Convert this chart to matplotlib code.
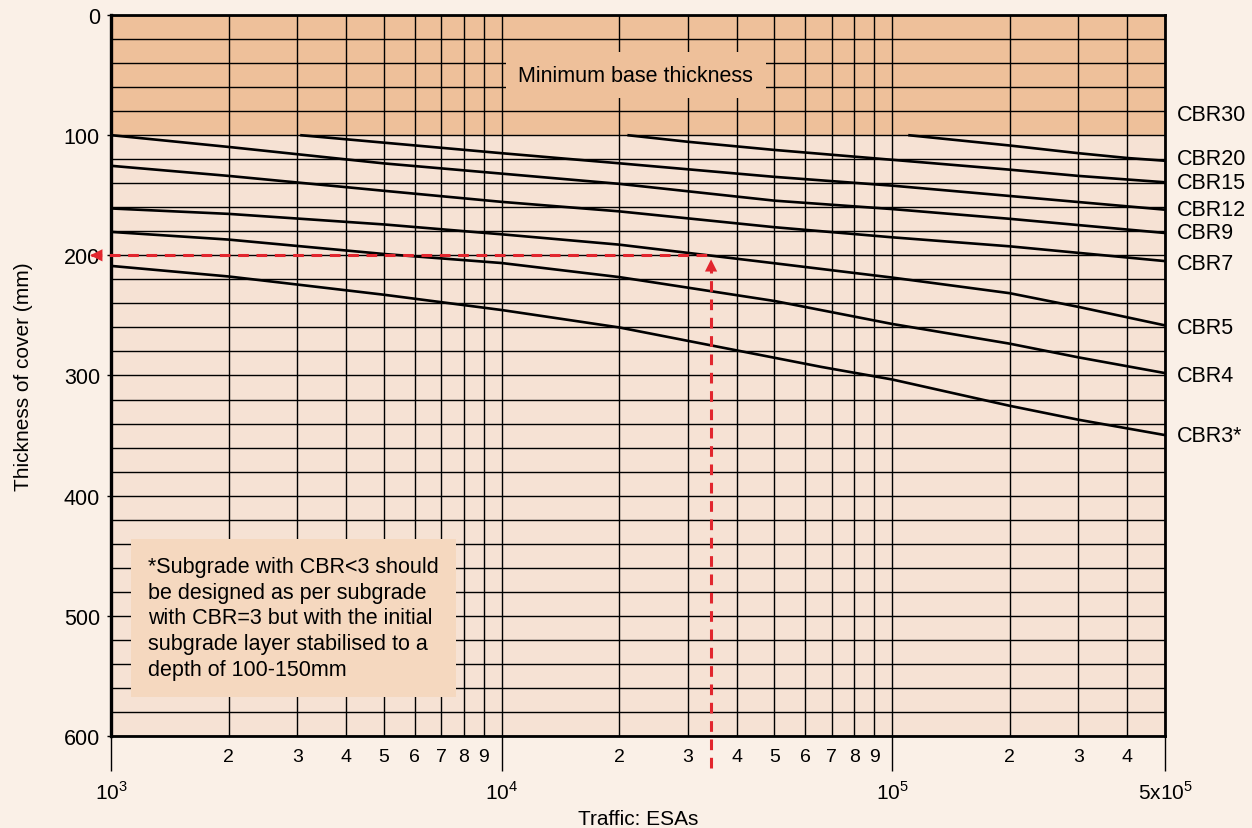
import matplotlib
matplotlib.use("Agg")
import matplotlib.pyplot as plt
from matplotlib.ticker import FixedLocator, FixedFormatter, NullFormatter

plt.rcParams['font.family'] = ['Liberation Sans', 'DejaVu Sans']
plt.rcParams['mathtext.fontset'] = 'custom'
plt.rcParams['mathtext.rm'] = 'Liberation Sans'

# curve data: traffic (ESAs) vs thickness of cover (mm)
cbr20_x = [1.1e5, 2e5, 3e5, 4e5, 5e5]
cbr20_y = [100, 108.6, 115.0, 119.0, 121.3]
cbr15_x = [2.1e4, 3e4, 5e4, 1e5, 2e5, 3e5, 5e5]
cbr15_y = [100, 105.5, 112.3, 120.5, 128.7, 133.9, 139.2]
cbr12_x = [3.05e3, 1e4, 2e4, 5e4, 1e5, 2e5, 5e5]
cbr12_y = [100, 115.0, 123.4, 134.7, 142.0, 150.6, 162.0]
cbr9_x = [1e3, 2e3, 5e3, 1e4, 2e4, 5e4, 1e5, 2e5, 5e5]
cbr9_y = [100, 109.8, 123.5, 132.0, 140.5, 154.5, 161.5, 169.6, 181.4]
cbr7_x = [1e3, 2e3, 5e3, 1e4, 2e4, 5e4, 1e5, 2e5, 5e5]
cbr7_y = [125.5, 133.9, 146.3, 155.5, 163.4, 176.6, 185.0, 192.5, 204.8]
cbr5_x = [1e3, 2e3, 5e3, 1e4, 2e4, 5e4, 1e5, 2e5, 3e5, 5e5]
cbr5_y = [161.0, 165.5, 174.3, 182.5, 191.1, 206.6, 218.5, 231.5, 242.9, 258.3]
cbr4_x = [1e3, 2e3, 5e3, 1e4, 2e4, 5e4, 1e5, 2e5, 3e5, 5e5]
cbr4_y = [180.5, 186.9, 198.9, 206.4, 218.1, 238.0, 257.1, 273.5, 284.9, 298.0]
cbr3_x = [1e3, 2e3, 5e3, 1e4, 2e4, 6.6e4, 1e5, 2e5, 3e5, 5e5]
cbr3_y = [208.8, 217.6, 232.8, 245.5, 260.0, 292.9, 303.3, 325.2, 336.8, 349.6]

curve_labels = ['CBR30', 'CBR20', 'CBR15', 'CBR12', 'CBR9', 'CBR7', 'CBR5', 'CBR4', 'CBR3*']
label_y = [82.6, 119.5, 139.7, 161.6, 181.0, 206.4, 260.0, 300.0, 350.0]

min_base = 100
design_traffic = 3.44e4
design_cover = 200

x_minor = [2e3, 3e3, 4e3, 5e3, 6e3, 7e3, 8e3, 9e3,
           2e4, 3e4, 4e4, 5e4, 6e4, 7e4, 8e4, 9e4,
           2e5, 3e5, 4e5]
x_minor_labels = ['2', '3', '4', '5', '6', '7', '8', '9',
                  '2', '3', '4', '5', '6', '7', '8', '9',
                  '2', '3', '4']
x_major = [1e3, 1e4, 1e5, 5e5]
x_major_labels = [r'$10^{3}$', r'$10^{4}$', r'$10^{5}$', r'5x$10^{5}$']

note = ("*Subgrade with CBR<3 should\n"
        "be designed as per subgrade\n"
        "with CBR=3 but with the initial\n"
        "subgrade layer stabilised to a\n"
        "depth of 100-150mm")

fig_bg = '#FAF0E7'
ax_bg = '#F6E2D4'
band = '#EEC09A'
box_bg = '#F5D8BF'
red = '#E2262E'

fig = plt.figure(figsize=(12.52, 8.29), dpi=100, facecolor=fig_bg)
ax = fig.add_axes([0.0887, 0.111, 0.8418, 0.8697])
ax.set_facecolor(ax_bg)
ax.set_xscale('log')
ax.set_xlim(1e3, 5e5)
ax.set_ylim(600, 0)

ax.axhspan(0, min_base, color=band, zorder=0, lw=0)

# grid
ax.xaxis.set_major_locator(FixedLocator(x_major))
ax.xaxis.set_major_formatter(FixedFormatter(x_major_labels))
ax.xaxis.set_minor_locator(FixedLocator(x_minor))
ax.xaxis.set_minor_formatter(FixedFormatter(x_minor_labels))
ax.yaxis.set_major_locator(FixedLocator(range(0, 601, 100)))
ax.yaxis.set_minor_locator(FixedLocator(range(0, 601, 20)))
ax.yaxis.set_minor_formatter(NullFormatter())
ax.grid(which='both', color='black', lw=1.0)
ax.set_axisbelow(True)

ax.tick_params(axis='x', which='major', length=25, width=1.0, pad=7, labelsize=15)
ax.tick_params(axis='x', which='minor', length=0, pad=9, labelsize=14)
ax.tick_params(axis='y', which='major', length=3, width=1.0, pad=5, labelsize=15.5)
ax.tick_params(axis='y', which='minor', length=0)
for s in ax.spines.values():
    s.set_linewidth(2.0)
ax.spines['left'].set_linewidth(2.4)

curves = [(cbr20_x, cbr20_y), (cbr15_x, cbr15_y), (cbr12_x, cbr12_y), (cbr9_x, cbr9_y),
          (cbr7_x, cbr7_y), (cbr5_x, cbr5_y), (cbr4_x, cbr4_y), (cbr3_x, cbr3_y)]
for cx, cy in curves:
    ax.plot(cx, cy, color='black', lw=1.9, zorder=3, solid_capstyle='butt',
            solid_joinstyle='round')

tr = ax.get_yaxis_transform()
for lab, ly in zip(curve_labels, label_y):
    ax.text(1.011, ly, lab, transform=tr, fontsize=15.5, va='center', ha='left')

ax.text(0.498, 50, 'Minimum base thickness', transform=tr, fontsize=15.5,
        ha='center', va='center', zorder=4,
        bbox=dict(boxstyle='square,pad=0.6', fc=band, ec='none'))

ax.text(0.0355, 0.25, note, transform=ax.transAxes, fontsize=15.5,
        ha='left', va='top', linespacing=1.3, zorder=4,
        bbox=dict(boxstyle='square,pad=0.8', fc=box_bg, ec='none'))

# worked example: red dashed construction lines
ax.plot([design_traffic, design_traffic], [627, design_cover + 8], color=red,
        lw=2.2, ls=(0, (3.5, 2.5)), zorder=5, clip_on=False)
ax.plot([8.9e2, design_traffic], [design_cover, design_cover], color=red,
        lw=2.2, ls=(0, (3.5, 2.5)), zorder=5, clip_on=False)
ax.annotate('', xy=(design_traffic, design_cover + 1), xytext=(design_traffic, design_cover + 16),
            arrowprops=dict(arrowstyle='-|>', color=red, lw=0, mutation_scale=22),
            zorder=6, annotation_clip=False)
ax.annotate('', xy=(8.7e2, design_cover), xytext=(1.02e3, design_cover),
            arrowprops=dict(arrowstyle='-|>', color=red, lw=0, mutation_scale=22),
            zorder=6, annotation_clip=False)

ax.set_ylabel('Thickness of cover (mm)', fontsize=15, labelpad=22)
ax.set_xlabel('Traffic: ESAs', fontsize=15, labelpad=4)

fig.savefig('out.png', dpi=100, facecolor=fig_bg)
